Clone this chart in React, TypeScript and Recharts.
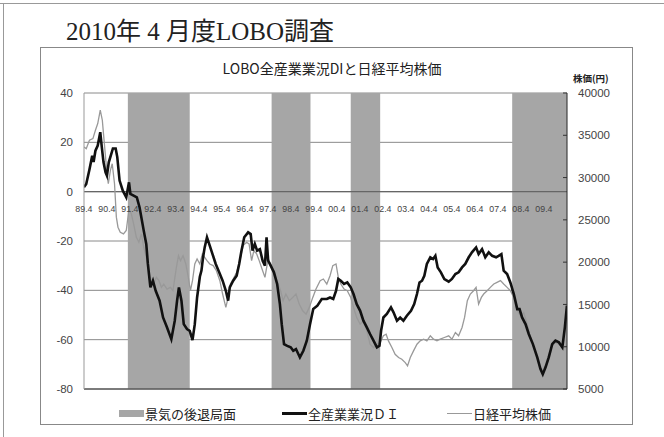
import React from 'react';
import { ComposedChart, Line, XAxis, YAxis, CartesianGrid, ReferenceArea, ReferenceLine } from 'recharts';

// LOBO DI (all industries)
const diDates = [
  1989.33, 1989.43, 1989.57, 1989.69, 1989.75, 1989.83, 1989.93, 1990.04, 1990.10, 1990.18,
  1990.27, 1990.33, 1990.41, 1990.59, 1990.71, 1990.78, 1990.88, 1991.02, 1991.17, 1991.29,
  1991.35, 1991.49, 1991.63, 1991.75, 1991.93, 1992.04, 1992.11, 1992.22, 1992.33, 1992.45,
  1992.62, 1992.77, 1992.94, 1993.13, 1993.28, 1993.38, 1993.46, 1993.57, 1993.67, 1993.81,
  1993.93, 1994.05, 1994.15, 1994.25, 1994.37, 1994.44, 1994.51, 1994.58, 1994.68, 1994.80,
  1994.92, 1995.06, 1995.21, 1995.36, 1995.50, 1995.60, 1995.67, 1995.82, 1995.97, 1996.08,
  1996.18, 1996.30, 1996.47, 1996.58, 1996.66, 1996.76, 1996.86, 1996.98, 1997.10, 1997.20,
  1997.27, 1997.34, 1997.45, 1997.59, 1997.73, 1997.85, 1997.93, 1998.03, 1998.17, 1998.32,
  1998.43, 1998.55, 1998.72, 1998.87, 1999.02, 1999.16, 1999.30, 1999.48, 1999.67, 1999.89,
  2000.03, 2000.17, 2000.29, 2000.39, 2000.50, 2000.64, 2000.78, 2000.93, 2001.05, 2001.19,
  2001.34, 2001.48, 2001.63, 2001.77, 2001.92, 2002.07, 2002.18, 2002.25, 2002.35, 2002.50,
  2002.68, 2002.79, 2002.94, 2003.08, 2003.22, 2003.37, 2003.55, 2003.69, 2003.81, 2003.92,
  2004.03, 2004.13, 2004.24, 2004.39, 2004.51, 2004.61, 2004.71, 2004.85, 2005.00, 2005.19,
  2005.33, 2005.48, 2005.62, 2005.77, 2005.91, 2006.06, 2006.20, 2006.38, 2006.49, 2006.64,
  2006.78, 2006.93, 2007.08, 2007.25, 2007.36, 2007.48, 2007.58, 2007.73, 2007.87, 2008.02,
  2008.17, 2008.27, 2008.38, 2008.53, 2008.67, 2008.85, 2009.04, 2009.18, 2009.28, 2009.40,
  2009.54, 2009.69, 2009.83, 2009.98, 2010.13, 2010.24, 2010.33,
];
const diValues = [
  1.8, 3.1, 9.0, 14.6, 12.0, 16.6, 18.7, 24.1, 18.7, 12.0,
  7.8, 6.5, 11.9, 17.5, 17.5, 14.0, 4.5, 0.4, -2.3, 3.8,
  -0.9, -1.6, -2.3, -6.4, -15.8, -21.2, -29.3, -38.8, -36.1, -40.2,
  -44.2, -51.0, -55.0, -59.8, -52.3, -44.2, -38.8, -44.2, -53.7, -55.7,
  -56.4, -60.2, -53.7, -42.9, -34.5, -32.0, -26.6, -22.6, -18.5, -21.9,
  -25.3, -29.3, -32.7, -36.1, -40.2, -44.2, -38.8, -36.1, -34.1, -29.3,
  -23.9, -18.5, -16.5, -17.2, -23.9, -21.2, -23.9, -23.3, -28.0, -30.0,
  -18.5, -28.0, -30.0, -32.7, -37.4, -45.6, -53.7, -61.8, -62.5, -63.1,
  -64.5, -63.8, -67.2, -64.5, -60.4, -53.7, -47.6, -46.2, -43.5, -43.5,
  -42.9, -43.5, -40.2, -35.4, -36.1, -37.4, -36.8, -38.8, -41.5, -45.6,
  -48.3, -52.3, -55.0, -57.7, -60.4, -63.1, -62.5, -56.4, -51.0, -49.6,
  -46.9, -48.9, -52.3, -51.0, -52.3, -50.3, -48.3, -45.6, -41.5, -36.8,
  -36.1, -34.1, -29.3, -26.6, -27.3, -26.0, -30.7, -32.7, -35.4, -36.5,
  -35.4, -33.4, -32.7, -30.7, -29.3, -26.6, -24.6, -22.6, -25.3, -23.3,
  -26.6, -24.6, -26.0, -26.6, -26.0, -25.3, -32.0, -33.4, -36.8, -41.5,
  -47.6, -47.6, -51.0, -53.7, -57.7, -61.8, -67.2, -71.9, -74.0, -71.2,
  -67.2, -61.8, -60.4, -61.1, -63.1, -55.0, -46.2,
];

// Nikkei average (yen)
const nikkeiDates = [
  1989.33, 1989.43, 1989.57, 1989.72, 1989.83, 1989.93, 1990.04, 1990.13, 1990.18, 1990.27,
  1990.33, 1990.39, 1990.48, 1990.56, 1990.66, 1990.74, 1990.81, 1990.91, 1991.05, 1991.17,
  1991.29, 1991.39, 1991.49, 1991.61, 1991.72, 1991.83, 1991.93, 1992.04, 1992.16, 1992.26,
  1992.36, 1992.48, 1992.59, 1992.70, 1992.80, 1992.94, 1993.09, 1993.20, 1993.35, 1993.44,
  1993.53, 1993.64, 1993.76, 1993.87, 1993.96, 1994.05, 1994.15, 1994.25, 1994.37, 1994.48,
  1994.58, 1994.68, 1994.80, 1994.95, 1995.09, 1995.24, 1995.36, 1995.50, 1995.60, 1995.70,
  1995.82, 1995.97, 1996.11, 1996.25, 1996.40, 1996.51, 1996.62, 1996.72, 1996.84, 1996.95,
  1997.10, 1997.20, 1997.34, 1997.45, 1997.59, 1997.73, 1997.88, 1997.99, 1998.11, 1998.26,
  1998.41, 1998.55, 1998.69, 1998.84, 1998.99, 1999.13, 1999.28, 1999.42, 1999.60, 1999.74,
  1999.89, 2000.03, 2000.15, 2000.29, 2000.39, 2000.50, 2000.64, 2000.78, 2000.93, 2001.05,
  2001.19, 2001.34, 2001.48, 2001.63, 2001.77, 2001.92, 2002.07, 2002.21, 2002.35, 2002.47,
  2002.57, 2002.72, 2002.86, 2003.01, 2003.15, 2003.30, 2003.40, 2003.52, 2003.66, 2003.81,
  2003.95, 2004.10, 2004.24, 2004.39, 2004.53, 2004.68, 2004.82, 2005.00, 2005.19, 2005.33,
  2005.48, 2005.62, 2005.77, 2005.88, 2006.00, 2006.13, 2006.27, 2006.38, 2006.49, 2006.61,
  2006.71, 2006.86, 2007.00, 2007.15, 2007.29, 2007.44, 2007.58, 2007.73, 2007.87, 2008.02,
  2008.17, 2008.31, 2008.45, 2008.60, 2008.75, 2008.89, 2009.04, 2009.18, 2009.28, 2009.40,
  2009.54, 2009.69, 2009.83, 2009.98, 2010.13, 2010.24, 2010.33,
];
const nikkeiValues = [
  33620, 33420, 34410, 34610, 35600, 36390, 37970, 36780, 35200, 32430,
  30460, 29270, 30850, 31640, 29270, 25320, 24130, 23540, 23340, 23740,
  26310, 25710, 24530, 22950, 22350, 23340, 21760, 20570, 18990, 17610,
  17410, 18200, 17810, 17020, 17410, 16820, 17020, 16620, 19390, 20770,
  20180, 20770, 19780, 18200, 16620, 17810, 19780, 20380, 19780, 20970,
  20570, 20180, 19780, 19590, 18990, 17810, 16230, 14650, 15830, 17410,
  18010, 18800, 20180, 21960, 22350, 22160, 20180, 21370, 20970, 20180,
  18990, 18200, 20380, 19780, 18990, 17810, 16620, 15440, 16230, 15440,
  15830, 16230, 15040, 14250, 13850, 14650, 15830, 16820, 17810, 18010,
  17410, 18400, 19590, 19780, 18200, 17410, 16820, 16620, 15830, 14650,
  13460, 12670, 13060, 11880, 10300, 9900, 10300, 10490, 11290, 11480,
  10690, 9900, 9110, 8720, 8520, 8120, 7730, 8720, 9510, 10300,
  10690, 10890, 10690, 11290, 10890, 10690, 10890, 11090, 11290, 10890,
  11680, 11290, 12270, 13460, 15440, 16230, 16620, 17020, 15040, 15830,
  16230, 16620, 17020, 17410, 17610, 17810, 17410, 17020, 16620, 15830,
  14250, 13660, 14050, 12670, 11090, 9900, 8720, 7530, 7130, 7930,
  9110, 10100, 10490, 10300, 10100, 9900, 10100,
];

// recession phases (shaded)
const recessionStart = [1991.24, 1997.49, 2000.93, 2007.95];
const recessionEnd = [1993.93, 1999.18, 2002.21, 2010.33];

const yearTicks = [
  1989.33, 1990.33, 1991.33, 1992.33, 1993.33, 1994.33, 1995.33, 1996.33, 1997.33, 1998.33,
  1999.33, 2000.33, 2001.33, 2002.33, 2003.33, 2004.33, 2005.33, 2006.33, 2007.33, 2008.33, 2009.33,
];
const yearLabels = [
  '89.4', '90.4', '91.4', '92.4', '93.4', '94.4', '95.4', '96.4', '97.4', '98.4',
  '99.4', '00.4', '01.4', '02.4', '03.4', '04.4', '05.4', '06.4', '07.4', '08.4', '09.4',
];
const diTicks = [-80, -60, -40, -20, 0, 20, 40];
const priceTicks = [5000, 10000, 15000, 20000, 25000, 30000, 35000, 40000];

type Row = { t: number; di?: number; nikkei?: number };
const byDate = new Map<number, Row>();
diDates.forEach((t, i) => {
  const r = byDate.get(t) ?? { t };
  r.di = diValues[i];
  byDate.set(t, r);
});
nikkeiDates.forEach((t, i) => {
  const r = byDate.get(t) ?? { t };
  r.nikkei = nikkeiValues[i];
  byDate.set(t, r);
});
const rows = Array.from(byDate.values()).sort((a, b) => a.t - b.t);

const W = 664;
const H = 437;
const PLOT_TOP = 93;
const PLOT_BOTTOM = 389;
const ZERO_Y = PLOT_TOP + ((PLOT_BOTTOM - PLOT_TOP) * 40) / 120;

const sans = '"Liberation Sans", Arial, sans-serif';
const jp = '"Noto Sans CJK JP", sans-serif';

const YearTick = ({ x, payload }: any) => {
  const i = yearTicks.indexOf(payload.value);
  return (
    <text x={x} y={ZERO_Y + 20} textAnchor="middle" fontSize={8.8} fill="#444" fontFamily={sans}>
      {yearLabels[i]}
    </text>
  );
};

const legendItems = [
  { label: '景気の後退局面', kind: 'box', color: '#a6a6a6', left: 119 },
  { label: '全産業業況ＤＩ', kind: 'line', color: '#111', left: 282 },
  { label: '日経平均株価', kind: 'thin', color: '#999', left: 447 },
];

export default function App() {
  return (
    <div style={{ position: 'absolute', left: 0, top: 0, width: W, height: H, background: '#fff', overflow: 'hidden' }}>
      <div style={{ position: 'absolute', left: 0, top: 3, width: W, height: 1, background: '#999' }} />
      <div style={{ position: 'absolute', left: 3, top: 3, width: 1, height: H, background: '#999' }} />
      <div
        style={{
          position: 'absolute', left: 66, top: 11, fontSize: 25, color: '#222', whiteSpace: 'nowrap',
          fontFamily: '"Liberation Serif", "Noto Sans CJK JP", serif',
        }}
      >
        2010年 4 月度LOBO調査
      </div>
      <div style={{ position: 'absolute', left: 40, top: 47, width: 591, height: 376, border: '1px solid #888' }} />
      <div
        style={{
          position: 'absolute', left: 0, width: W, top: 58, textAlign: 'center', fontSize: 14,
          color: '#222', fontFamily: jp,
        }}
      >
        LOBO全産業業況DIと日経平均株価
      </div>
      <div
        style={{
          position: 'absolute', left: 573, top: 74, fontSize: 9.5, lineHeight: 1, fontWeight: 700,
          color: '#222', fontFamily: jp, whiteSpace: 'nowrap',
        }}
      >
        株価(円)
      </div>

      <div style={{ position: 'absolute', left: 0, top: 0 }}>
        <ComposedChart width={W} height={H} data={rows} margin={{ top: PLOT_TOP, right: 37, bottom: H - PLOT_BOTTOM - 1, left: 40 }}>
          <CartesianGrid yAxisId="di" vertical={false} stroke="#8a8a8a" strokeWidth={1} />
          <XAxis
            dataKey="t"
            type="number"
            domain={[1989.333, 2010.333]}
            ticks={yearTicks}
            interval={0}
            height={1}
            tick={<YearTick />}
            tickLine={false}
            axisLine={{ stroke: '#333' }}
            allowDataOverflow
          />
          <YAxis
            yAxisId="di"
            domain={[-80, 40]}
            ticks={diTicks}
            width={44}
            tickSize={0}
            tickMargin={11}
            axisLine={{ stroke: '#999' }}
            tick={{ fontSize: 11.5, fill: '#444', fontFamily: sans }}
            allowDataOverflow
          />
          <YAxis
            yAxisId="price"
            orientation="right"
            domain={[5000, 40000]}
            ticks={priceTicks}
            width={60}
            tickSize={-4}
            tickMargin={15}
            tickLine={{ stroke: '#333' }}
            axisLine={{ stroke: '#222' }}
            tick={{ fontSize: 11.5, fill: '#444', fontFamily: sans }}
            allowDataOverflow
          />
          {recessionStart.map((s, i) => (
            <ReferenceArea
              key={`rec-${i}`}
              yAxisId="di"
              x1={s}
              x2={recessionEnd[i]}
              y1={-80}
              y2={40}
              fill="#a6a6a6"
              fillOpacity={1}
              stroke="none"
            />
          ))}
          <ReferenceLine yAxisId="di" y={0} stroke="#666" strokeWidth={1.2} />
          <Line
            yAxisId="price"
            dataKey="nikkei"
            stroke="#999"
            strokeWidth={1.3}
            dot={false}
            connectNulls
            isAnimationActive={false}
          />
          <Line
            yAxisId="di"
            dataKey="di"
            stroke="#111"
            strokeWidth={2.6}
            dot={false}
            connectNulls
            isAnimationActive={false}
          />
        </ComposedChart>
      </div>

      {legendItems.map((it) => (
        <div
          key={it.label}
          style={{ position: 'absolute', left: it.left, top: 404, display: 'flex', alignItems: 'center', whiteSpace: 'nowrap' }}
        >
          <span
            style={{
              display: 'inline-block', width: 25,
              height: it.kind === 'box' ? 7 : it.kind === 'line' ? 3 : 1.5,
              background: it.color,
            }}
          />
          <span style={{ fontSize: 13, color: '#222', fontFamily: jp, marginLeft: 1 }}>{it.label}</span>
        </div>
      ))}
    </div>
  );
}
